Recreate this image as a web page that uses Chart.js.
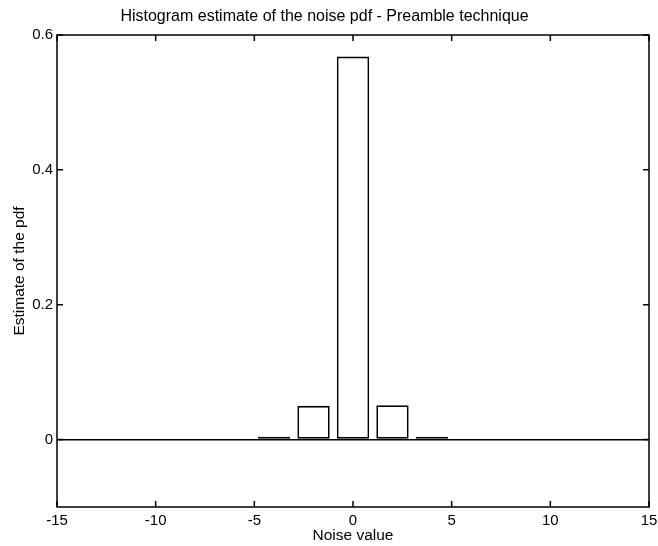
<!DOCTYPE html>
<html>
<head>
<meta charset="utf-8">
<script src="https://cdn.jsdelivr.net/npm/chart.js@4"></script>
<style>
  body { margin: 0; background: #fff; }
</style>
</head>
<body>
<canvas id="hist" width="658" height="546"></canvas>
<script>
// bin centres and estimated pdf
const binCenters = [-4, -2, 0, 2, 4];
const pdfValues = [0.004, 0.05, 0.568, 0.051, 0.004];

// tick labels
const xTicks = [-15, -10, -5, 0, 5, 10, 15];
const yTicks = [0, 0.2, 0.4, 0.6];

const font = 'Liberation Sans, Arial, Helvetica, sans-serif';

// matlab style box with inward ticks on all 4 sides
const boxPlugin = {
  id: 'box',
  afterDatasetsDraw(chart) {
    const { ctx, chartArea: a, scales } = chart;
    const len = 6;
    ctx.save();
    ctx.strokeStyle = '#000';
    ctx.lineWidth = 1.5;
    ctx.strokeRect(a.left, a.top, a.right - a.left, a.bottom - a.top);
    ctx.beginPath();
    scales.x.ticks.forEach(t => {
      const px = scales.x.getPixelForValue(t.value);
      ctx.moveTo(px, a.bottom); ctx.lineTo(px, a.bottom - len);
      ctx.moveTo(px, a.top); ctx.lineTo(px, a.top + len);
    });
    scales.y.ticks.forEach(t => {
      const py = scales.y.getPixelForValue(t.value);
      ctx.moveTo(a.left, py); ctx.lineTo(a.left + len, py);
      ctx.moveTo(a.right, py); ctx.lineTo(a.right - len, py);
    });
    ctx.stroke();
    ctx.restore();
  }
};

new Chart(document.getElementById('hist'), {
  type: 'bar',
  data: {
    datasets: [{
      data: binCenters.map((c, i) => ({ x: c, y: pdfValues[i] })),
      backgroundColor: '#fff',
      borderColor: '#000',
      borderWidth: 1.8,
      borderSkipped: false,
      barPercentage: 0.82, // border is drawn inside the bar
      categoryPercentage: 1
    }]
  },
  options: {
    responsive: false,
    animation: false,
    layout: { padding: { right: 9 } },
    plugins: {
      legend: { display: false },
      tooltip: { enabled: false },
      title: {
        display: true,
        text: 'Histogram estimate of the noise pdf - Preamble technique',
        color: '#000',
        font: { family: font, size: 16, weight: 'normal' },
        padding: { top: 7, bottom: 8.8 }
      }
    },
    scales: {
      x: {
        type: 'linear',
        min: -15,
        max: 15,
        offset: false,
        afterBuildTicks: s => { s.ticks = xTicks.map(v => ({ value: v })); },
        afterFit: s => { s.height = 39; s.paddingLeft = 0; s.paddingRight = 0; },
        grid: { display: false, drawTicks: false },
        border: { display: false },
        ticks: { color: '#000', padding: 5, font: { family: font, size: 15 } },
        title: {
          display: true,
          text: 'Noise value',
          color: '#000',
          font: { family: font, size: 15.5 },
          padding: { top: 0, bottom: 1.2 }
        }
      },
      y: {
        min: -0.1,
        max: 0.6,
        afterBuildTicks: s => { s.ticks = yTicks.map(v => ({ value: v })); },
        afterFit: s => { s.width = 57; },
        grid: {
          drawTicks: false,
          lineWidth: 1.5,
          color: c => (c.tick && c.tick.value === 0) ? '#000' : 'rgba(0,0,0,0)'
        },
        border: { display: false },
        ticks: {
          color: '#000',
          padding: 4,
          font: { family: font, size: 15 },
          callback: v => String(v)
        },
        title: {
          display: true,
          text: 'Estimate of the pdf',
          color: '#000',
          font: { family: font, size: 15.5 },
          padding: { top: 10.7, bottom: 0 }
        }
      }
    }
  },
  plugins: [boxPlugin]
});
</script>
</body>
</html>
